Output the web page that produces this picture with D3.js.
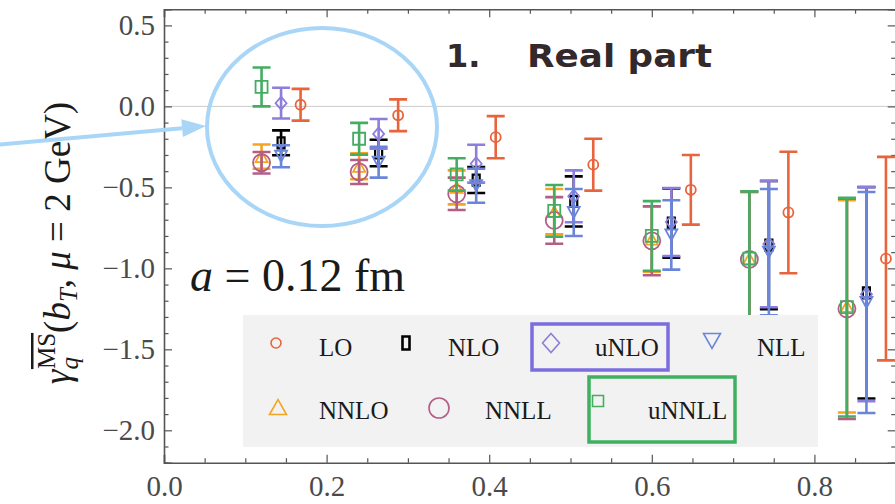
<!DOCTYPE html>
<html>
<head>
<meta charset="utf-8">
<script src="https://cdn.jsdelivr.net/npm/d3@7"></script>
<style>
  html, body { margin: 0; padding: 0; background: #ffffff; }
  svg { display: block; }
</style>
</head>
<body>
<svg id="chart" width="895" height="504"></svg>
<script>
// Collins–Soper kernel (real part) at a = 0.12 fm for several matching orders.
const bT = [0.12, 0.24, 0.36, 0.48, 0.60, 0.72, 0.84];

const loVal    = [0.010, -0.055, -0.190, -0.360, -0.515, -0.655, -0.940];
const loErr    = [0.098,  0.098,  0.130,  0.160,  0.215,  0.375,  0.628];
const nloVal   = [-0.225, -0.288, -0.455, -0.587, -0.720, -0.857, -1.151];
const nloErr   = [0.077,  0.082,  0.080,  0.155,  0.214,  0.396,  0.653];
const unloVal  = [0.020, -0.170, -0.354, -0.555, -0.714, -0.850, -1.160];
const unloErr  = [0.095,  0.092,  0.117,  0.160,  0.210,  0.390,  0.660];
const nllVal   = [-0.308, -0.345, -0.490, -0.655, -0.794, -0.900, -1.211];
const nllErr   = [0.068,  0.095,  0.105,  0.145,  0.214,  0.390,  0.682];
const nnloVal  = [-0.310, -0.370, -0.500, -0.650, -0.820, -0.940, -1.235];
const nnloErr  = [0.075,  0.080,  0.105,  0.140,  0.200,  0.410,  0.655];
const nnllVal  = [-0.348, -0.405, -0.540, -0.704, -0.830, -0.945, -1.250];
const nnllErr  = [0.066,  0.074,  0.100,  0.144,  0.213,  0.420,  0.680];
const unnllVal = [0.120, -0.200, -0.420, -0.645, -0.800, -0.940, -1.240];
const unnllErr = [0.120,  0.098,  0.100,  0.160,  0.215,  0.415,  0.675];

const xTickLabels = [0.0, 0.2, 0.4, 0.6, 0.8];
const yTickLabels = [-2.0, -1.5, -1.0, -0.5, 0.0, 0.5];

// Drawing order: later series sit on top within a column.
const series = [
  { name: "LO",    val: loVal,    err: loErr,    color: "#E8643C", marker: "circle",    col: 2 },
  { name: "NLO",   val: nloVal,   err: nloErr,   color: "#000000", marker: "rect",      col: 1 },
  { name: "uNLO",  val: unloVal,  err: unloErr,  color: "#8C7EDB", marker: "diamond",   col: 1 },
  { name: "NLL",   val: nllVal,   err: nllErr,   color: "#6A86DB", marker: "tridown",   col: 1 },
  { name: "NNLO",  val: nnloVal,  err: nnloErr,  color: "#F3A522", marker: "triup",     col: 0 },
  { name: "NNLL",  val: nnllVal,  err: nnllErr,  color: "#B35E85", marker: "bigcircle", col: 0 },
  { name: "uNNLL", val: unnllVal, err: unnllErr, color: "#44AD62", marker: "square",    col: 0 }
];
const colShift = 0.024;   // horizontal spread of the three columns inside a group

const svg = d3.select("#chart");
const plot = { left: 164, right: 895.7, top: 9.2, bottom: 462.7 };

const x = d3.scaleLinear().domain([0, 0.9]).range([plot.left, plot.right]);
const y = d3.scaleLinear().domain([-2.2, 0.6]).range([plot.bottom, plot.top]);

const serif = "'Liberation Serif', 'DejaVu Serif', serif";
const frameColor = "#555555";

// zero line
svg.append("line")
  .attr("x1", plot.left).attr("x2", plot.right)
  .attr("y1", y(0)).attr("y2", y(0))
  .attr("stroke", "#cccccc").attr("stroke-width", 1);

// ----- frame axes -----
const xMinor = d3.range(0, 0.9001, 0.05).filter(v => !xTickLabels.some(t => Math.abs(t - v) < 1e-6));
const yMinor = d3.range(-2.2, 0.6001, 0.1).filter(v => !yTickLabels.some(t => Math.abs(t - v) < 1e-6));

function styleAxis(g) {
  g.select(".domain").attr("stroke", frameColor).attr("stroke-width", 1.6);
  g.selectAll(".tick line").attr("stroke", frameColor).attr("stroke-width", 1.2);
  g.selectAll(".tick text")
    .attr("fill", "#4a4a4a")
    .style("font-family", serif)
    .style("font-size", "29px");
}

// bottom
const gB = svg.append("g").attr("transform", `translate(0,${plot.bottom})`)
  .call(d3.axisBottom(x).tickValues(xTickLabels).tickSize(-8).tickPadding(13)
        .tickFormat(d3.format(".1f")));
styleAxis(gB);
const gBm = svg.append("g").attr("transform", `translate(0,${plot.bottom})`)
  .call(d3.axisBottom(x).tickValues(xMinor).tickSize(-4.5).tickFormat(""));
styleAxis(gBm); gBm.select(".domain").remove();

// top
const gT = svg.append("g").attr("transform", `translate(0,${plot.top})`)
  .call(d3.axisTop(x).tickValues(xTickLabels).tickSize(-8).tickFormat(""));
styleAxis(gT);
const gTm = svg.append("g").attr("transform", `translate(0,${plot.top})`)
  .call(d3.axisTop(x).tickValues(xMinor).tickSize(-4.5).tickFormat(""));
styleAxis(gTm); gTm.select(".domain").remove();

// left
const gL = svg.append("g").attr("transform", `translate(${plot.left},0)`)
  .call(d3.axisLeft(y).tickValues(yTickLabels).tickSize(-8).tickPadding(9)
        .tickFormat(d3.format(".1f")));
styleAxis(gL);
const gLm = svg.append("g").attr("transform", `translate(${plot.left},0)`)
  .call(d3.axisLeft(y).tickValues(yMinor).tickSize(-4.5).tickFormat(""));
styleAxis(gLm); gLm.select(".domain").remove();

// right
const gR = svg.append("g").attr("transform", `translate(${plot.right},0)`)
  .call(d3.axisRight(y).tickValues(yTickLabels).tickSize(-8).tickFormat(""));
styleAxis(gR);
const gRm = svg.append("g").attr("transform", `translate(${plot.right},0)`)
  .call(d3.axisRight(y).tickValues(yMinor).tickSize(-4.5).tickFormat(""));
styleAxis(gRm); gRm.select(".domain").remove();

// ----- markers -----
function markerPath(type, s) {
  switch (type) {
    case "circle":
    case "bigcircle": {
      const r = s.r;
      return `M${-r},0a${r},${r} 0 1,0 ${2*r},0a${r},${r} 0 1,0 ${-2*r},0Z`;
    }
    case "rect":
      return `M${-s.w/2},${-s.h/2}h${s.w}v${s.h}h${-s.w}Z`;
    case "square":
      return `M${-s.w/2},${-s.w/2}h${s.w}v${s.w}h${-s.w}Z`;
    case "diamond":
      return `M0,${-s.h/2}L${s.w/2},0L0,${s.h/2}L${-s.w/2},0Z`;
    case "tridown":
      return `M${-s.w/2},${-s.h/2}L${s.w/2},${-s.h/2}L0,${s.h/2}Z`;
    case "triup":
      return `M${-s.w/2},${s.h/2}L${s.w/2},${s.h/2}L0,${-s.h/2}Z`;
  }
}
const plotSize = {
  circle: { r: 5 }, bigcircle: { r: 8.5 }, rect: { w: 7, h: 11 }, square: { w: 12 },
  diamond: { w: 11, h: 13 }, tridown: { w: 12, h: 11 }, triup: { w: 12, h: 11 }
};

svg.append("clipPath").attr("id", "plotClip")
  .append("rect")
  .attr("x", plot.left).attr("y", plot.top)
  .attr("width", plot.right - plot.left).attr("height", plot.bottom - plot.top);

const dataLayer = svg.append("g").attr("clip-path", "url(#plotClip)");
const capHalf = 9;

series.forEach(s => {
  const g = dataLayer.append("g").attr("class", "series-" + s.name);
  const pts = bT.map((b, i) => ({ x: b + s.col * colShift, v: s.val[i], e: s.err[i] }));
  const bars = g.selectAll("g.bar").data(pts).join("g").attr("class", "bar")
    .attr("stroke", s.color).attr("stroke-width", 2.6).attr("fill", "none");
  bars.append("line")
    .attr("x1", d => x(d.x)).attr("x2", d => x(d.x))
    .attr("y1", d => y(d.v + d.e)).attr("y2", d => y(d.v - d.e));
  bars.append("line")
    .attr("x1", d => x(d.x) - capHalf).attr("x2", d => x(d.x) + capHalf)
    .attr("y1", d => y(d.v + d.e)).attr("y2", d => y(d.v + d.e));
  bars.append("line")
    .attr("x1", d => x(d.x) - capHalf).attr("x2", d => x(d.x) + capHalf)
    .attr("y1", d => y(d.v - d.e)).attr("y2", d => y(d.v - d.e));
  g.selectAll("path.mk").data(pts).join("path").attr("class", "mk")
    .attr("transform", d => `translate(${x(d.x)},${y(d.v)})`)
    .attr("d", markerPath(s.marker, plotSize[s.marker]))
    .attr("fill", "none").attr("stroke", s.color)
    .attr("stroke-width", s.marker === "rect" ? 2.2 : 1.8);
});

// ----- annotation text -----
const ann = svg.append("text")
  .attr("x", 190).attr("y", 291)
  .style("font-family", serif).style("font-size", "46px").attr("fill", "#1a1a1a");
ann.append("tspan").attr("font-style", "italic").text("a");
ann.append("tspan").text(" = 0.12 fm");

// ----- legend -----
const legend = svg.append("g");
legend.append("rect").attr("x", 243).attr("y", 315).attr("width", 575).attr("height", 132)
  .attr("fill", "#f2f2f2");
legend.append("rect").attr("x", 532).attr("y", 324).attr("width", 136).attr("height", 46)
  .attr("fill", "none").attr("stroke", "#7B6CE0").attr("stroke-width", 3.5);
legend.append("rect").attr("x", 589).attr("y", 377).attr("width", 146).attr("height", 65)
  .attr("fill", "none").attr("stroke", "#3FB060").attr("stroke-width", 3.5);

const legendSize = {
  circle: { r: 5 }, bigcircle: { r: 10 }, rect: { w: 7, h: 13 }, square: { w: 11 },
  diamond: { w: 17, h: 19 }, tridown: { w: 17, h: 15 }, triup: { w: 17, h: 15 }
};
const legendPos = {
  LO:    { mx: 276, my: 343, tx: 319, ty: 356 },
  NLO:   { mx: 406, my: 343, tx: 448, ty: 356 },
  uNLO:  { mx: 551, my: 343, tx: 595, ty: 356 },
  NLL:   { mx: 712, my: 341, tx: 757, ty: 356 },
  NNLO:  { mx: 278, my: 407, tx: 319, ty: 419 },
  NNLL:  { mx: 439, my: 408, tx: 485, ty: 419 },
  uNNLL: { mx: 598, my: 401, tx: 648, ty: 419 }
};
series.forEach(s => {
  const p = legendPos[s.name];
  legend.append("path")
    .attr("transform", `translate(${p.mx},${p.my})`)
    .attr("d", markerPath(s.marker, legendSize[s.marker]))
    .attr("fill", "none").attr("stroke", s.color)
    .attr("stroke-width", s.marker === "rect" ? 2.6 : 1.6);
  legend.append("text").attr("x", p.tx).attr("y", p.ty)
    .style("font-family", serif).style("font-size", "25px").attr("fill", "#1a1a1a")
    .text(s.name);
});

// ----- y-axis label -----
const ylab = svg.append("text")
  .attr("transform", "translate(70,243) rotate(-90)")
  .attr("text-anchor", "middle")
  .style("font-family", serif).style("font-size", "37px").attr("fill", "#1a1a1a");
ylab.append("tspan").attr("font-style", "italic").text("γ");
ylab.append("tspan").attr("font-style", "italic").attr("font-size", "25px").attr("dy", 8).text("q");
ylab.append("tspan").attr("font-size", "25px").attr("dx", -12).attr("dy", -23)
  .attr("text-decoration", "overline").text("MS");
ylab.append("tspan").attr("dy", 15).text("(");
ylab.append("tspan").attr("font-style", "italic").text("b");
ylab.append("tspan").attr("font-style", "italic").attr("font-size", "25px").attr("dy", 7).text("T");
ylab.append("tspan").attr("dy", -7).text(", ");
ylab.append("tspan").attr("font-style", "italic").text("μ");
ylab.append("tspan").text(" = 2 GeV)");

// ----- highlight ellipse and arrow -----
const hl = "#A9D6F7";
svg.append("ellipse").attr("cx", 322).attr("cy", 127).attr("rx", 115).attr("ry", 99)
  .attr("fill", "none").attr("stroke", hl).attr("stroke-width", 4);
const tip = [206, 126], tail = [-5, 145];
const ang = Math.atan2(tip[1] - tail[1], tip[0] - tail[0]);
const headLen = 24, headHalf = 9;
const bx = tip[0] - headLen * Math.cos(ang), by = tip[1] - headLen * Math.sin(ang);
svg.append("line").attr("x1", tail[0]).attr("y1", tail[1]).attr("x2", bx).attr("y2", by)
  .attr("stroke", hl).attr("stroke-width", 4);
svg.append("path")
  .attr("d", `M${tip[0]},${tip[1]}L${bx + headHalf * Math.sin(ang)},${by - headHalf * Math.cos(ang)}L${bx - headHalf * Math.sin(ang)},${by + headHalf * Math.cos(ang)}Z`)
  .attr("fill", hl);

// ----- title -----
const titleFont = "'DejaVu Sans', Inter, Roboto, sans-serif";
svg.append("text").attr("x", 446).attr("y", 67)
  .style("font-family", titleFont).style("font-weight", 700).style("font-size", "32px")
  .attr("fill", "#33282A").text("1.");
svg.append("text").attr("x", 527).attr("y", 67)
  .attr("textLength", 185).attr("lengthAdjust", "spacingAndGlyphs")
  .style("font-family", titleFont).style("font-weight", 700).style("font-size", "32px")
  .attr("fill", "#33282A").text("Real part");
</script>
</body>
</html>
